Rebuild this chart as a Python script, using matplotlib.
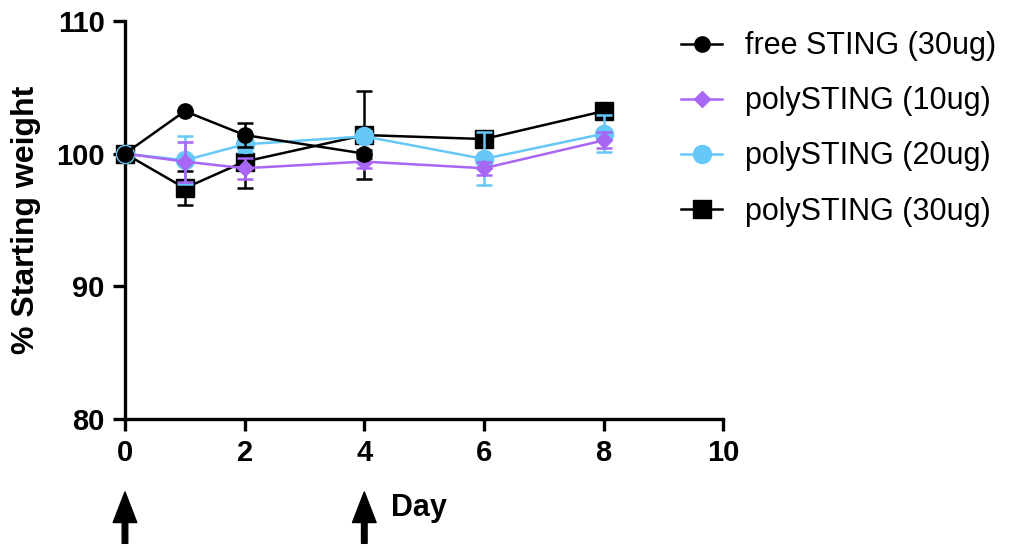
import matplotlib
matplotlib.use("Agg")
import matplotlib.pyplot as plt
from matplotlib.lines import Line2D

plt.rcParams['font.family'] = ['Liberation Sans', 'DejaVu Sans']

# Data
labels = ["free STING (30ug)", "polySTING (10ug)", "polySTING (20ug)", "polySTING (30ug)"]

days_free = [0, 1, 2, 4]
free_30 = [100.0, 103.2, 101.4, 100.0]
free_30_err = [0.0, 0.0, 0.9, 0.3]

days_poly = [0, 1, 2, 4, 6, 8]
poly_10 = [100.0, 99.4, 98.9, 99.4, 98.9, 101.0]
poly_10_err = [0.0, 1.5, 0.8, 0.5, 0.5, 0.6]
poly_20 = [100.0, 99.5, 100.7, 101.3, 99.6, 101.5]
poly_20_err = [0.0, 1.8, 0.6, 0.4, 2.0, 1.4]
poly_30 = [100.0, 97.4, 99.4, 101.4, 101.1, 103.2]
poly_30_err = [0.0, 1.3, 2.0, 3.3, 0.5, 0.5]

purple = '#A866F5'
blue = '#66C8F8'

fig = plt.figure(figsize=(10.21, 5.5), dpi=100)
ax = fig.add_axes([0.1224, 0.238, 0.586, 0.724])

kw = dict(lw=1.8, capsize=6, elinewidth=1.8, capthick=1.8, clip_on=False)
h30 = ax.errorbar(days_poly, poly_30, yerr=poly_30_err, color='black', marker='s',
                  ms=13, zorder=3, **kw)
h20 = ax.errorbar(days_poly, poly_20, yerr=poly_20_err, color=blue, marker='o',
                  ms=13, zorder=4, **kw)
h10 = ax.errorbar(days_poly, poly_10, yerr=poly_10_err, color=purple, marker='D',
                  ms=8, zorder=5, **kw)
hf = ax.errorbar(days_free, free_30, yerr=free_30_err, color='black', marker='o',
                 ms=11, zorder=6, **kw)
for h in (h30, h20, h10, hf):
    for c in h[1] + h[2]:
        c.set_clip_on(False)

ax.set_xlim(0, 10)
ax.set_ylim(80, 110)
ax.set_xticks([0, 2, 4, 6, 8, 10])
ax.set_yticks([80, 90, 100, 110])
for s in ['top', 'right']:
    ax.spines[s].set_visible(False)
for s in ['left', 'bottom']:
    ax.spines[s].set_linewidth(2.4)
ax.tick_params(width=2.4, length=8.5, labelsize=21, pad=6)
for t in ax.get_xticklabels() + ax.get_yticklabels():
    t.set_fontweight('bold')
ax.set_ylabel('% Starting weight', fontsize=23, fontweight='bold')
ax.yaxis.set_label_coords(-0.14, 0.5)

# dosing arrows
trans = ax.get_xaxis_transform()
for d in [0, 4]:
    ax.annotate('', xy=(d, -0.183), xytext=(d, -0.312), xycoords=trans, textcoords=trans,
                annotation_clip=False,
                arrowprops=dict(facecolor='black', edgecolor='black', width=4,
                                headwidth=17, headlength=22, shrink=0))
ax.text(4.45, -0.222, 'Day', transform=trans, fontsize=22, fontweight='bold',
        ha='left', va='center')

handles = [
    Line2D([], [], color='black', marker='o', ms=11, lw=1.8),
    Line2D([], [], color=purple, marker='D', ms=8, lw=1.8),
    Line2D([], [], color=blue, marker='o', ms=13, lw=1.8),
    Line2D([], [], color='black', marker='s', ms=13, lw=1.8),
]
fig.legend(handles, labels, loc='upper left',
           bbox_to_anchor=(0.64, 0.993), frameon=False, fontsize=22,
           handlelength=1.35, labelspacing=0.82, handletextpad=0.75)

fig.savefig('out.png', dpi=100)
